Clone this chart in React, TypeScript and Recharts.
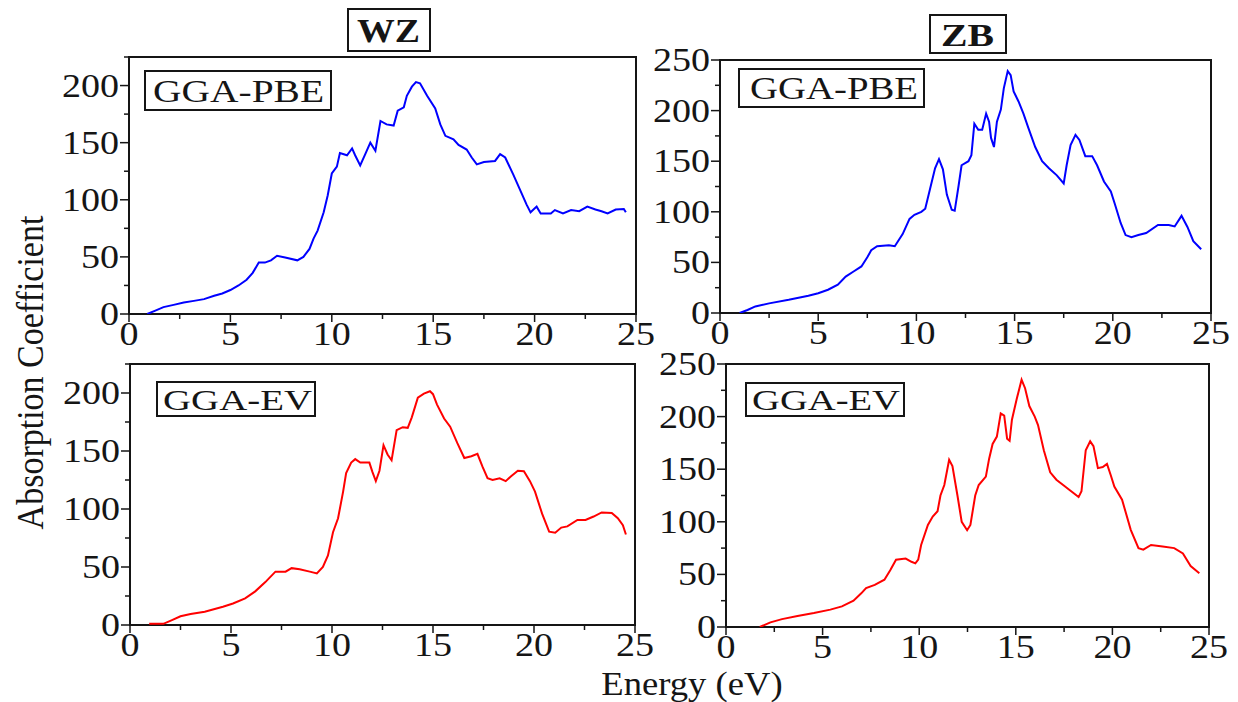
import React from 'react';
import { LineChart, Line, XAxis, YAxis, ReferenceArea } from 'recharts';

// Energy grid (eV) and absorption values for each panel
const wzPbeEnergy = [0.9, 1.3, 1.7, 2.2, 2.7, 3.2, 3.7, 4.2, 4.6, 5.0, 5.4, 5.8, 6.1, 6.4, 6.7, 7.0, 7.3, 7.7, 8.3, 8.6, 8.9, 9.1, 9.3, 9.6, 9.8, 10.0, 10.25, 10.4, 10.75, 11.0, 11.15, 11.4, 11.65, 11.9, 12.15, 12.4, 12.7, 13.05, 13.25, 13.55, 13.7, 13.95, 14.15, 14.35, 14.7, 15.1, 15.35, 15.6, 16.0, 16.25, 16.65, 16.9, 17.15, 17.5, 18.05, 18.3, 18.55, 18.95, 19.3, 19.6, 19.8, 20.1, 20.3, 20.8, 21.0, 21.4, 21.8, 22.2, 22.6, 23.0, 23.3, 23.6, 24.0, 24.4, 24.5];
const wzPbeAbs = [0, 3, 6, 8, 10, 11.5, 13, 16, 18, 21, 25, 30, 36, 45, 45, 47, 51, 49.5, 47, 50, 57, 66, 73, 89, 104, 123, 129, 141, 139, 145, 139, 130, 140, 150, 143, 169, 166, 165, 178, 181, 191, 199, 203, 202, 191, 180, 166, 156, 153, 148, 144, 137, 131, 133, 134, 140, 137, 122, 108, 96, 89, 94, 88, 88, 91, 88, 91, 90, 94, 91.5, 90, 88, 91.5, 92, 89];

const zbPbeEnergy = [1.0, 1.4, 1.8, 2.5, 3.5, 4.5, 5.0, 5.5, 6.0, 6.4, 6.8, 7.2, 7.5, 7.7, 8.0, 8.6, 8.9, 9.3, 9.65, 9.9, 10.25, 10.45, 10.7, 10.95, 11.15, 11.35, 11.55, 11.8, 11.95, 12.15, 12.3, 12.65, 12.8, 12.95, 13.15, 13.35, 13.55, 13.7, 13.8, 13.95, 14.1, 14.3, 14.45, 14.65, 14.8, 14.95, 15.2, 15.45, 15.7, 16.05, 16.4, 16.75, 17.15, 17.5, 17.65, 17.85, 18.1, 18.3, 18.6, 18.95, 19.2, 19.55, 19.9, 20.1, 20.4, 20.65, 20.95, 21.3, 21.7, 22.3, 22.85, 23.15, 23.5, 23.8, 24.1, 24.5];
const zbPbeAbs = [0, 3, 6.5, 9.5, 13, 17, 19.5, 23, 28, 36, 41, 46, 55, 62, 66, 67, 66, 78, 93, 97, 100, 103, 123, 143, 152, 142, 117, 102, 101, 126, 146, 150, 156, 187, 181, 181, 197, 189, 173, 164, 189, 201, 222, 239, 235, 219, 209, 197, 183, 164, 150, 143, 136, 128, 146, 166, 176, 171, 155, 155, 146, 130, 120, 108, 89, 77, 75, 77, 79, 87, 87, 85.5, 96, 85, 71, 63];

const wzEvEnergy = [0.95, 1.65, 2.05, 2.5, 3.0, 3.7, 4.6, 5.1, 5.7, 6.2, 6.7, 7.2, 7.7, 8.0, 8.4, 8.9, 9.25, 9.55, 9.8, 10.05, 10.3, 10.55, 10.7, 10.95, 11.15, 11.4, 11.85, 12.0, 12.17, 12.35, 12.55, 12.75, 12.95, 13.2, 13.5, 13.75, 13.95, 14.25, 14.55, 14.85, 15.0, 15.2, 15.55, 15.85, 16.2, 16.55, 16.9, 17.2, 17.45, 17.7, 17.95, 18.3, 18.6, 18.85, 19.2, 19.5, 19.8, 20.05, 20.4, 20.75, 21.05, 21.35, 21.65, 22.15, 22.55, 22.95, 23.35, 23.85, 24.15, 24.4, 24.55];
const wzEvAbs = [1, 1, 4, 7.5, 9.5, 11.5, 15.8, 18.5, 23, 29, 37, 46, 46, 49, 48, 46, 44.5, 50, 60, 80, 92, 115, 131, 140, 143, 140, 140, 132, 124, 133, 155, 147, 142, 168, 170.5, 170, 179, 196, 199.5, 201.5, 199, 190, 178, 171, 157, 144, 145.5, 147.5, 136.5, 126.5, 125, 126.5, 124, 128, 133, 132.5, 124, 115, 96, 80.5, 79.5, 84, 85, 90.5, 90.5, 93.5, 97, 96.5, 92, 86, 78];

const zbEvEnergy = [1.75, 2.3, 2.9, 3.7, 4.55, 5.4, 6.0, 6.6, 7.0, 7.25, 7.7, 8.2, 8.5, 8.8, 9.3, 9.6, 9.8, 9.95, 10.1, 10.45, 10.7, 10.95, 11.1, 11.3, 11.55, 11.72, 11.98, 12.2, 12.48, 12.65, 12.9, 13.08, 13.45, 13.62, 13.8, 14.02, 14.22, 14.4, 14.55, 14.68, 14.8, 15.05, 15.3, 15.48, 15.7, 15.98, 16.15, 16.45, 16.78, 17.1, 17.45, 17.9, 18.25, 18.4, 18.62, 18.85, 19.02, 19.25, 19.5, 19.72, 19.92, 20.1, 20.5, 20.95, 21.35, 21.6, 22.0, 22.6, 23.2, 23.65, 24.05, 24.5];
const zbEvAbs = [0, 4.4, 7.5, 10.5, 13.3, 16.5, 19.6, 25, 32, 37, 40, 45, 54, 64, 65, 62, 60.5, 64, 78, 97, 105, 110, 125, 135, 159, 153, 125, 100, 92, 97, 125, 135, 143, 160, 174, 181, 203, 201, 179, 177, 197, 217, 235, 227, 210, 200, 192, 168, 147, 140, 135, 128.5, 123.5, 129, 168, 176.5, 172, 151, 152, 155, 144, 133.5, 121, 92.4, 75, 73.5, 78, 76.5, 75, 70, 58, 51];

const energyTicks = [0, 2.5, 5, 7.5, 10, 12.5, 15, 17.5, 20, 22.5, 25];
const wzAbsTicks = [0, 25, 50, 75, 100, 125, 150, 175, 200, 225];
const zbAbsTicks = [0, 25, 50, 75, 100, 125, 150, 175, 200, 225, 250];

const FONT = '"Liberation Serif", "Times New Roman", serif';
const INK = '#151515';
const SX = 1.12;
const Y_AXIS_W = 80;
const X_AXIS_H = 50;
const TOP_PAD = 25;

const toRows = (energy: number[], abs: number[]) => energy.map((e, i) => ({ e, a: abs[i] }));

const XTick = ({ x, y, payload }: any) => {
  const major = payload.value % 5 === 0;
  return (
    <g>
      <line x1={x} y1={y} x2={x} y2={y + (major ? 8 : 5)} stroke={INK} strokeWidth={1.5} />
      {major && (
        <text transform={`translate(${x},${y + 31}) scale(${SX},1)`} textAnchor="middle" fontFamily={FONT} fontSize={34} fill={INK}>
          {payload.value}
        </text>
      )}
    </g>
  );
};

const YTick = ({ x, y, payload }: any) => {
  const major = payload.value % 50 === 0;
  return (
    <g>
      <line x1={x - (major ? 9 : 5)} y1={y} x2={x} y2={y} stroke={INK} strokeWidth={1.5} />
      {major && (
        <text transform={`translate(${x - 10},${y + 11}) scale(${SX},1)`} textAnchor="end" fontFamily={FONT} fontSize={34} fill={INK}>
          {payload.value}
        </text>
      )}
    </g>
  );
};

interface PanelProps {
  rows: { e: number; a: number }[];
  color: string;
  left: number;
  top: number;
  w: number;
  h: number;
  yMax: number;
  yTicks: number[];
}

const Panel: React.FC<PanelProps> = ({ rows, color, left, top, w, h, yMax, yTicks }) => (
  <div style={{ position: 'absolute', left: left - Y_AXIS_W, top: top - TOP_PAD }}>
    <LineChart
      width={w + Y_AXIS_W + 30}
      height={h + TOP_PAD + X_AXIS_H}
      data={rows}
      margin={{ top: TOP_PAD, right: 30, left: 0, bottom: 0 }}
    >
      <XAxis
        dataKey="e"
        type="number"
        domain={[0, 25]}
        ticks={energyTicks}
        interval={0}
        height={X_AXIS_H}
        axisLine={false}
        tickLine={false}
        tickSize={0}
        tickMargin={0}
        tick={<XTick />}
        allowDataOverflow
      />
      <YAxis
        type="number"
        domain={[0, yMax]}
        ticks={yTicks}
        interval={0}
        width={Y_AXIS_W}
        axisLine={false}
        tickLine={false}
        tickSize={0}
        tickMargin={0}
        tick={<YTick />}
        allowDataOverflow
      />
      <ReferenceArea x1={0} x2={25} y1={0} y2={yMax} fill="none" stroke={INK} strokeWidth={2} strokeOpacity={1} />
      <Line type="linear" dataKey="a" stroke={color} strokeWidth={2} dot={false} isAnimationActive={false} />
    </LineChart>
  </div>
);

const LabelBox = ({ x, y, w, h, tx, ty, len, size, bold, text }: any) => (
  <g>
    <rect x={x} y={y} width={w} height={h} fill="#fff" stroke={INK} strokeWidth={2} />
    <text
      x={tx}
      y={ty}
      textLength={len}
      lengthAdjust="spacingAndGlyphs"
      fontFamily={FONT}
      fontSize={size}
      fontWeight={bold ? 'bold' : 'normal'}
      fill={INK}
    >
      {text}
    </text>
  </g>
);

export default function App() {
  return (
    <div style={{ position: 'absolute', left: 0, top: 0, width: 1238, height: 702, background: '#fff', overflow: 'hidden' }}>
      <Panel rows={toRows(wzPbeEnergy, wzPbeAbs)} color="#0000ff" left={129} top={57} w={507} h={257} yMax={225} yTicks={wzAbsTicks} />
      <Panel rows={toRows(zbPbeEnergy, zbPbeAbs)} color="#0000ff" left={720} top={60} w={491} h={253} yMax={250} yTicks={zbAbsTicks} />
      <Panel rows={toRows(wzEvEnergy, wzEvAbs)} color="#ff0000" left={130} top={364} w={505} h={261} yMax={225} yTicks={wzAbsTicks} />
      <Panel rows={toRows(zbEvEnergy, zbEvAbs)} color="#ff0000" left={726} top={364} w={483} h={263} yMax={250} yTicks={zbAbsTicks} />

      <svg width={1238} height={702} style={{ position: 'absolute', left: 0, top: 0, pointerEvents: 'none' }}>
        <LabelBox x={348} y={9} w={82} h={42} tx={357} ty={42} len={63} size={33} bold text="WZ" />
        <LabelBox x={930} y={15} w={76} h={38} tx={941} ty={46} len={53} size={31} bold text="ZB" />

        <LabelBox x={145} y={71} w={186} h={39} tx={153} ty={101.5} len={171} size={31} text="GGA-PBE" />
        <LabelBox x={739} y={69} w={185} h={38} tx={750} ty={99} len={168} size={31} text="GGA-PBE" />
        <LabelBox x={157} y={382} w={158} h={34} tx={163} ty={410} len={149} size={30} text="GGA-EV" />
        <LabelBox x={746} y={383} w={158} h={33} tx={752} ty={410} len={148} size={30} text="GGA-EV" />

        <text
          transform={`translate(43,372.5) scale(1.1,1) rotate(-90)`}
          textAnchor="middle"
          fontFamily={FONT}
          fontSize={34}
          fill={INK}
        >
          Absorption Coefficient
        </text>
        <text
          transform={`translate(692,695) scale(1.11,1)`}
          textAnchor="middle"
          fontFamily={FONT}
          fontSize={33}
          fill={INK}
        >
          Energy (eV)
        </text>
      </svg>
    </div>
  );
}
